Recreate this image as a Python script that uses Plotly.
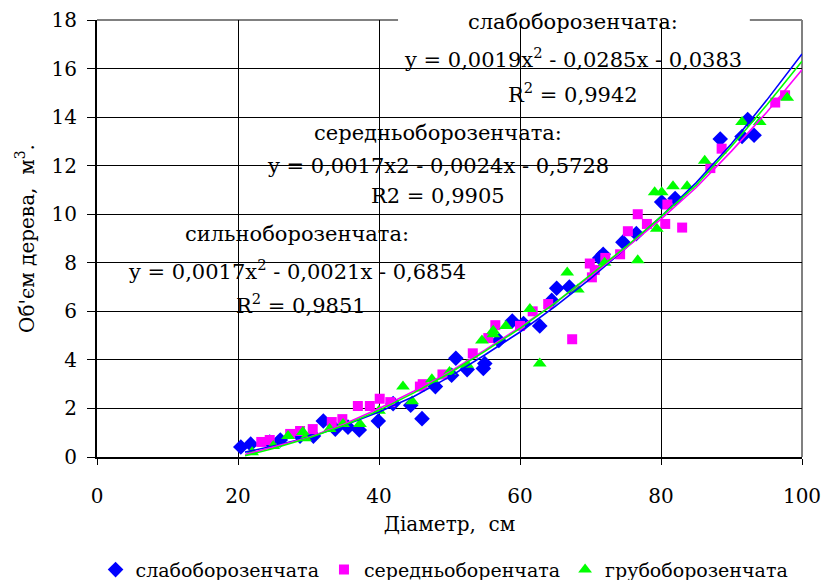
import plotly.graph_objects as go

# ---- data ----
blue_name = "слабоборозенчата"
mag_name = "середньоборенчата"
green_name = "грубоборозенчата"

blue_x = [20.4, 21.8, 24.5, 26.0, 28.8, 30.7, 32.1, 33.8, 35.6, 37.2, 39.9, 42.0, 44.5, 46.1, 48.0,
          50.3, 50.9, 52.5, 54.8, 55.0, 57.0, 58.9, 60.5, 62.8, 64.5, 65.2, 67.0, 71.3, 71.8, 74.6,
          76.5, 80.1, 82.0, 88.4, 91.5, 92.3, 93.2]
blue_y = [0.41, 0.53, 0.62, 0.70, 0.86, 0.86, 1.48, 1.15, 1.23, 1.11, 1.48, 2.2, 2.13, 1.58, 2.9,
          3.37, 4.07, 3.6, 3.65, 3.85, 4.8, 5.6, 5.5, 5.4, 6.45, 6.95, 7.0, 8.2, 8.35, 8.85,
          9.2, 10.5, 10.65, 13.1, 13.2, 13.9, 13.25]

mag_x = [23.3, 24.5, 27.4, 28.8, 30.6, 33.3, 34.8, 37.0, 38.7, 40.1, 41.6, 45.8, 46.2, 49.0,
         53.3, 55.5, 56.5, 60.0, 61.8, 64.0, 67.4, 69.9, 70.2, 70.6, 72.1, 74.2, 75.3, 76.7,
         78.0, 80.6, 80.9, 83.0, 87.0, 88.6, 96.2, 97.6]
mag_y = [0.62, 0.70, 0.95, 1.07, 1.15, 1.44, 1.56, 2.1, 2.1, 2.4, 2.26, 2.9, 3.0, 3.4,
         4.27, 4.9, 5.43, 5.4, 6.0, 6.3, 4.85, 7.97, 7.4, 7.7, 8.2, 8.35, 9.3, 10.0,
         9.6, 9.6, 10.4, 9.45, 11.9, 12.7, 14.6, 14.9]

green_x = [22.0, 25.0, 27.1, 29.2, 29.5, 33.0, 34.9, 37.3, 40.0, 43.4, 44.7, 47.5, 50.0, 52.5,
           54.6, 56.2, 56.2, 58.0, 61.4, 62.8, 66.7, 68.2, 72.0, 76.7, 79.1, 79.4, 80.1, 81.7,
           83.7, 86.2, 91.5, 94.0, 97.9]
green_y = [0.2, 0.45, 0.87, 1.03, 0.77, 1.15, 1.36, 1.36, 1.9, 2.9, 2.3, 3.2, 3.5, 3.8,
           4.8, 5.06, 5.2, 5.4, 6.1, 3.85, 7.6, 6.9, 8.0, 8.1, 10.9, 9.4, 10.9, 11.15,
           11.15, 12.2, 13.8, 13.8, 14.8]

# trend lines
trend_x = [21, 25, 30, 35, 40, 45, 50, 55, 60, 65, 70, 75, 80, 85, 90, 95, 100]
blue_trend = [0.2, 0.45, 0.8, 1.3, 1.85, 2.5, 3.3, 4.2, 5.15, 6.2, 7.35, 8.6, 9.9, 11.3, 12.9, 14.7, 16.6]
mag_trend = [0.1, 0.4, 0.8, 1.35, 2.0, 2.72, 3.5, 4.4, 5.35, 6.35, 7.45, 8.6, 9.8, 11.1, 12.6, 14.2, 15.95]
green_trend = [0.05, 0.35, 0.78, 1.3, 1.92, 2.65, 3.45, 4.35, 5.3, 6.35, 7.5, 8.65, 9.9, 11.2, 12.8, 14.5, 16.3]

x_ticks = [0, 20, 40, 60, 80, 100]
y_ticks = [0, 2, 4, 6, 8, 10, 12, 14, 16, 18]

BLUE = "#0000FF"
MAG = "#FF00FF"
GREEN = "#00FF00"
FONT = "DejaVu Serif"

fig = go.Figure()
fig.add_trace(go.Scatter(x=blue_x, y=blue_y, mode="markers", name=blue_name,
                         marker=dict(symbol="diamond", size=12, color=BLUE)))
fig.add_trace(go.Scatter(x=mag_x, y=mag_y, mode="markers", name=mag_name,
                         marker=dict(symbol="square", size=10, color=MAG)))
fig.add_trace(go.Scatter(x=green_x, y=green_y, mode="markers", name=green_name,
                         marker=dict(symbol="triangle-up", size=12, color=GREEN)))
fig.add_trace(go.Scatter(x=trend_x, y=blue_trend, mode="lines", showlegend=False,
                         line=dict(color=BLUE, width=1.6), hoverinfo="skip"))
fig.add_trace(go.Scatter(x=trend_x, y=mag_trend, mode="lines", showlegend=False,
                         line=dict(color=MAG, width=1.6), hoverinfo="skip"))
fig.add_trace(go.Scatter(x=trend_x, y=green_trend, mode="lines", showlegend=False,
                         line=dict(color=GREEN, width=1.6), hoverinfo="skip"))

shapes = [
    # gray top and right border of the plot area
    dict(type="line", xref="paper", yref="paper", x0=0, x1=1, y0=1, y1=1,
         line=dict(color="#808080", width=2), layer="between"),
    dict(type="line", xref="paper", yref="paper", x0=1, x1=1, y0=0, y1=1,
         line=dict(color="#808080", width=2), layer="between"),
    # white label boxes
    dict(type="rect", xref="paper", yref="paper", x0=0.427, x1=0.926, y0=0.794, y1=1.03,
         fillcolor="white", line=dict(width=0), layer="between"),
    dict(type="rect", xref="paper", yref="paper", x0=0.229, x1=0.748, y0=0.561, y1=0.789,
         fillcolor="white", line=dict(width=0), layer="between"),
    dict(type="rect", xref="paper", yref="paper", x0=0.030, x1=0.539, y0=0.309, y1=0.565,
         fillcolor="white", line=dict(width=0), layer="between"),
]

labels = [
    (0.675, 0.995, "слабоборозенчата:"),
    (0.675, 0.913, "y = 0,0019x<sup>2</sup> - 0,0285x - 0,0383"),
    (0.675, 0.833, "R<sup>2</sup> = 0,9942"),
    (0.484, 0.741, "середньоборозенчата:"),
    (0.484, 0.666, "y = 0,0017x2 - 0,0024x - 0,5728"),
    (0.484, 0.597, "R2 = 0,9905"),
    (0.284, 0.510, "сильноборозенчата:"),
    (0.284, 0.428, "y = 0,0017x<sup>2</sup> - 0,0021x - 0,6854"),
    (0.290, 0.350, "R<sup>2</sup> = 0,9851"),
]
annotations = [dict(x=x, y=y, xref="paper", yref="paper", text=t, showarrow=False,
                    xanchor="center", yanchor="middle",
                    font=dict(family=FONT, size=21, color="black"))
               for x, y, t in labels]

fig.update_layout(
    width=822, height=580,
    margin=dict(l=97, r=20, t=20, b=123, autoexpand=False),
    paper_bgcolor="white", plot_bgcolor="white",
    font=dict(family=FONT, size=20, color="black"),
    shapes=shapes, annotations=annotations,
    showlegend=True,
    legend=dict(orientation="h", x=0.493, xanchor="center", y=-0.258, yanchor="middle",
                font=dict(family=FONT, size=19), itemwidth=30, tracegroupgap=0,
                bgcolor="rgba(0,0,0,0)"),
    xaxis=dict(range=[0, 100], tickvals=x_ticks, showgrid=True, gridcolor="black", gridwidth=1.3,
               showline=True, linecolor="black", linewidth=2, ticks="outside", ticklen=6,
               tickcolor="black", zeroline=False, ticklabelstandoff=14, automargin=False,
               tickfont=dict(family=FONT, size=20),
               title=dict(text="Діаметр,  см", font=dict(family=FONT, size=20), standoff=10)),
    yaxis=dict(range=[0, 18], tickvals=y_ticks, showgrid=True, gridcolor="black", gridwidth=1.3,
               showline=True, linecolor="black", linewidth=2, ticks="outside", ticklen=8,
               tickcolor="black", zeroline=False, ticklabelstandoff=6, automargin=False,
               tickfont=dict(family=FONT, size=20),
               title=dict(text="Об'єм дерева,  м<sup>3</sup>.", font=dict(family=FONT, size=20),
                          standoff=12)),
)

fig.write_html("out.html", config={"displayModeBar": False},
               post_script="document.body.style.margin='0';")
